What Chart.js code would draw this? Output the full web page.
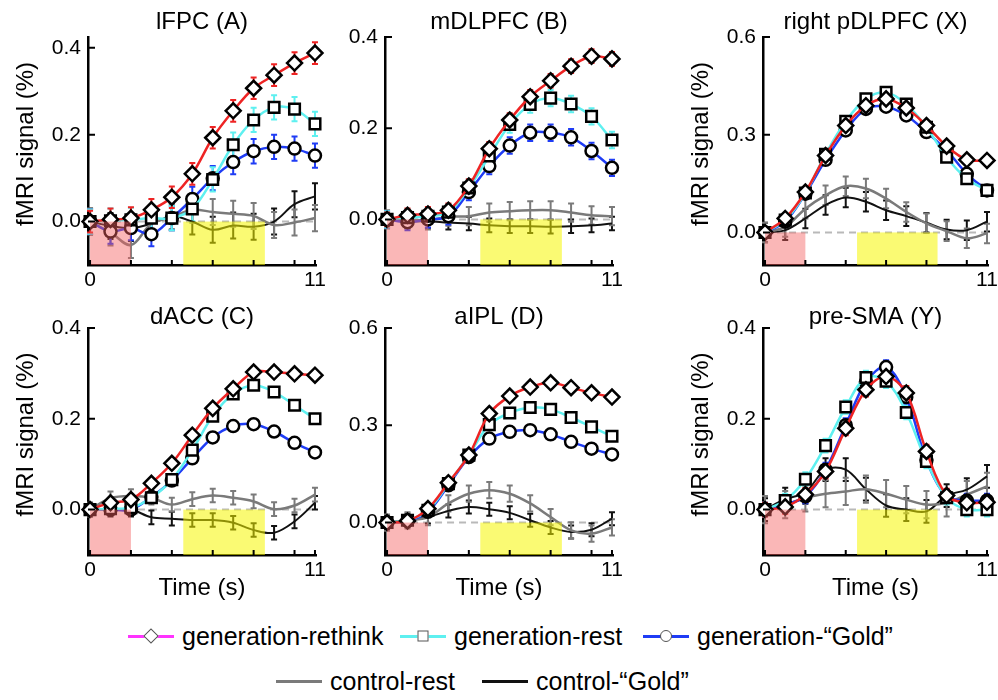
<!DOCTYPE html>
<html>
<head>
<meta charset="utf-8">
<script src="https://cdn.jsdelivr.net/npm/chart.js@4.4.1/dist/chart.umd.min.js"></script>
<style>
  body { margin: 0; background: #fff; width: 998px; height: 700px; position: relative; overflow: hidden;
         font-family: "Liberation Sans", Arial, Helvetica, sans-serif; }
  canvas { position: absolute; }
  .key { position: absolute; display: flex; align-items: center; height: 24px; font-size: 25px; color: #000; white-space: nowrap; }
  .sw { position: relative; width: 46px; height: 3px; margin-right: 8px; }
  .mk { position: absolute; left: 50%; top: 50%; width: 9px; height: 9px; background: #fff;
        border: 1.5px solid #555; transform: translate(-50%, -50%); }
  .mk.dia { transform: translate(-50%, -50%) rotate(45deg); }
  .mk.circ { border-radius: 50%; width: 10px; height: 10px; }
</style>
</head>
<body>
<canvas id="lfpc"></canvas>
<canvas id="mdlpfc"></canvas>
<canvas id="rpdlpfc"></canvas>
<canvas id="dacc"></canvas>
<canvas id="aipl"></canvas>
<canvas id="presma"></canvas>

<div class="key" style="left:128px; top:624px;"><span class="sw" style="background:#ff33ff"><i class="mk dia"></i></span>generation-rethink</div>
<div class="key" style="left:400px; top:624px;"><span class="sw" style="background:#5ef0f0"><i class="mk"></i></span>generation-rest</div>
<div class="key" style="left:643px; top:624px;"><span class="sw" style="background:#1f3cf5"><i class="mk circ"></i></span>generation-“Gold”</div>
<div class="key" style="left:276px; top:669px;"><span class="sw" style="background:#7a7a7a"></span>control-rest</div>
<div class="key" style="left:482px; top:669px;"><span class="sw" style="background:#111"></span>control-“Gold”</div>

<script>
// time axis (s) and tick marks
const timeSec = [0, 1, 2, 3, 4, 5, 6, 7, 8, 9, 10, 11];
const xTicks = [0, 2, 4, 6, 8, 10, 11];
const xTickLabels = [0, 11];
const yTicksSmall = [0, 0.2, 0.4];
const yTicksLarge = [0, 0.3, 0.6];
// shaded task windows (s)
const cueWindow = [0, 2];
const goldWindow = [4.56, 8.55];

// lFPC (A)
const lfpcRethink = [0, 0.005, 0.008, 0.027, 0.056, 0.11, 0.193, 0.255, 0.307, 0.337, 0.365, 0.388];
const lfpcRest = [0, 0.002, 0.004, 0.008, 0.008, 0.029, 0.097, 0.177, 0.234, 0.263, 0.259, 0.225];
const lfpcGold = [0, -0.023, -0.015, -0.029, 0.008, 0.052, 0.1, 0.137, 0.162, 0.172, 0.168, 0.152];
const lfpcCtrlRest = [0, -0.025, -0.054, -0.005, 0.01, 0.027, 0.022, 0.018, 0.013, -0.008, -0.002, 0.008];
const lfpcCtrlGold = [0, -0.01, -0.015, -0.005, 0.012, 0.0, -0.019, -0.009, -0.012, 0.0, 0.04, 0.058];
const lfpcSem = [0.025, 0.028, 0.028, 0.03, 0.03];

// mDLPFC (B)
const mdlRethink = [0, 0.009, 0.012, 0.02, 0.073, 0.155, 0.218, 0.269, 0.304, 0.336, 0.358, 0.352];
const mdlRest = [0, 0.004, 0.007, 0.016, 0.069, 0.139, 0.208, 0.252, 0.266, 0.253, 0.226, 0.174];
const mdlGold = [0, -0.006, 0, 0.007, 0.06, 0.117, 0.162, 0.19, 0.19, 0.18, 0.15, 0.113];
const mdlCtrlRest = [0, 0, -0.002, 0.006, 0.007, 0.015, 0.018, 0.02, 0.02, 0.015, 0.009, 0.007];
const mdlCtrlGold = [0, -0.004, -0.004, -0.007, -0.009, -0.013, -0.015, -0.015, -0.016, -0.015, -0.013, -0.009];
const mdlSem = [0.015, 0.018, 0.018, 0.02, 0.015];

// right pDLPFC (X)
const rdlRethink = [0, 0.043, 0.124, 0.236, 0.328, 0.389, 0.41, 0.382, 0.328, 0.265, 0.223, 0.221];
const rdlRest = [0, 0.038, 0.121, 0.24, 0.341, 0.41, 0.43, 0.394, 0.323, 0.231, 0.165, 0.129];
const rdlGold = [0, 0.033, 0.119, 0.223, 0.313, 0.379, 0.386, 0.359, 0.308, 0.252, 0.18, 0.129];
const rdlCtrlRest = [0, 0.017, 0.073, 0.114, 0.142, 0.135, 0.104, 0.063, 0.028, 0.004, -0.018, -0.003];
const rdlCtrlGold = [0, 0.007, 0.043, 0.084, 0.107, 0.094, 0.068, 0.05, 0.03, 0.009, 0.007, 0.033];
const rdlSem = [0.012, 0.012, 0.012, 0.03, 0.03];

// dACC (C)
const daccRethink = [0, 0.015, 0.022, 0.058, 0.102, 0.164, 0.223, 0.266, 0.303, 0.303, 0.299, 0.296];
const daccRest = [0, 0.002, 0.004, 0.026, 0.066, 0.131, 0.206, 0.255, 0.274, 0.259, 0.23, 0.2];
const daccGold = [0, 0, 0, 0.028, 0.064, 0.113, 0.159, 0.184, 0.188, 0.172, 0.147, 0.126];
const daccCtrlRest = [0, 0.025, 0.03, 0.026, 0.011, 0.023, 0.031, 0.026, 0.018, 0.001, 0.009, 0.033];
const daccCtrlGold = [0, 0, 0, -0.017, -0.02, -0.023, -0.023, -0.029, -0.045, -0.051, -0.026, 0.015];
const daccSem = [0.01, 0.01, 0.01, 0.015, 0.015];

// aIPL (D)
const aiplRethink = [0, 0.005, 0.043, 0.123, 0.208, 0.336, 0.39, 0.418, 0.431, 0.416, 0.4, 0.387];
const aiplRest = [0, 0.007, 0.038, 0.12, 0.208, 0.302, 0.338, 0.355, 0.349, 0.324, 0.295, 0.266];
const aiplGold = [0, 0.005, 0.033, 0.115, 0.202, 0.259, 0.28, 0.285, 0.272, 0.249, 0.228, 0.21];
const aiplCtrlRest = [0, 0.007, 0.017, 0.059, 0.089, 0.1, 0.089, 0.059, 0.017, -0.024, -0.034, -0.015];
const aiplCtrlGold = [0, 0.007, 0.017, 0.036, 0.048, 0.041, 0.03, 0.007, -0.015, -0.029, -0.022, 0.012];
const aiplSem = [0.01, 0.01, 0.01, 0.025, 0.02];

// pre-SMA (Y)
const psmaRethink = [0, 0.006, 0.033, 0.084, 0.179, 0.264, 0.293, 0.257, 0.128, 0.031, 0.015, 0.016];
const psmaRest = [0, 0.02, 0.067, 0.141, 0.226, 0.291, 0.283, 0.214, 0.106, 0.026, 0, 0];
const psmaGold = [0, 0.011, 0.029, 0.088, 0.186, 0.281, 0.314, 0.248, 0.109, 0.029, 0.02, 0.02];
const psmaCtrlRest = [0, 0.011, 0.026, 0.035, 0.04, 0.045, 0.035, 0.022, 0.011, 0.015, 0.033, 0.051];
const psmaCtrlGold = [0, 0.023, 0.038, 0.088, 0.088, 0.045, 0.009, 0, -0.004, 0.031, 0.044, 0.073];
const psmaSem = [0.015, 0.015, 0.015, 0.03, 0.025];

Chart.defaults.font.family = '"Liberation Sans", Arial, Helvetica, sans-serif';
Chart.defaults.color = '#000';

const seriesStyle = [
    { label: 'generation-rethink', color: '#ee2424', point: 'rectRot', radius: 7.5, width: 2.5 },
    { label: 'generation-rest', color: '#5ef0f0', point: 'rect', radius: 7.5, width: 2.5 },
    { label: 'generation-“Gold”', color: '#1f3cf5', point: 'circle', radius: 6, width: 2.5 },
    { label: 'control-rest', color: '#7a7a7a', point: false, width: 2.5 },
    { label: 'control-“Gold”', color: '#111111', point: false, width: 2 }
];

// canvas frames: column gives left edge / y-axis width / right padding, row gives top / heights
const columns = [
    { left: 0, width: 330, yW: 88, padR: 14 },
    { left: 330, width: 330, yW: 55, padR: 47 },
    { left: 660, width: 338, yW: 103, padR: 7 }
];
const rows = [
    { top: 0, height: 290, titlePad: { top: 11.8, bottom: 4.8 }, xH: 25 },
    { top: 290, height: 320, titlePad: { top: 16.8, bottom: 0.8 }, xH: 55 }
];

const panels = [
    { id: 'lfpc', title: 'lFPC (A)', col: 0, row: 0, yMax: 0.425, yTicks: yTicksSmall, yTitle: true,
      series: [lfpcRethink, lfpcRest, lfpcGold, lfpcCtrlRest, lfpcCtrlGold], sem: lfpcSem },
    { id: 'mdlpfc', title: 'mDLPFC (B)', col: 1, row: 0, yMax: 0.4, yTicks: yTicksSmall, yTitle: false,
      series: [mdlRethink, mdlRest, mdlGold, mdlCtrlRest, mdlCtrlGold], sem: mdlSem },
    { id: 'rpdlpfc', title: 'right pDLPFC (X)', col: 2, row: 0, yMax: 0.6, yTicks: yTicksLarge, yTitle: true,
      series: [rdlRethink, rdlRest, rdlGold, rdlCtrlRest, rdlCtrlGold], sem: rdlSem },
    { id: 'dacc', title: 'dACC (C)', col: 0, row: 1, yMax: 0.4, yTicks: yTicksSmall, yTitle: true,
      series: [daccRethink, daccRest, daccGold, daccCtrlRest, daccCtrlGold], sem: daccSem },
    { id: 'aipl', title: 'aIPL (D)', col: 1, row: 1, yMax: 0.6, yTicks: yTicksLarge, yTitle: false,
      series: [aiplRethink, aiplRest, aiplGold, aiplCtrlRest, aiplCtrlGold], sem: aiplSem },
    { id: 'presma', title: 'pre-SMA (Y)', col: 2, row: 1, yMax: 0.4, yTicks: yTicksSmall, yTitle: true,
      series: [psmaRethink, psmaRest, psmaGold, psmaCtrlRest, psmaCtrlGold], sem: psmaSem }
];

// error bars, zero line, shaded windows, inward ticks and the y title
const decor = {
    id: 'decor',
    beforeDatasetsDraw(chart) {
        const { ctx, scales: { x, y } } = chart;
        ctx.save();
        ctx.strokeStyle = '#b9b9b9';
        ctx.lineWidth = 2;
        ctx.setLineDash([7, 5]);
        ctx.beginPath();
        ctx.moveTo(x.getPixelForValue(0), y.getPixelForValue(0));
        ctx.lineTo(x.getPixelForValue(11), y.getPixelForValue(0));
        ctx.stroke();
        ctx.setLineDash([]);

        // draw from the bottom series up so the generation bars sit on top
        for (let i = chart.data.datasets.length - 1; i >= 0; i--) {
            const ds = chart.data.datasets[i];
            ctx.strokeStyle = ds.borderColor;
            ctx.lineWidth = 2;
            ds.data.forEach(pt => {
                const px = x.getPixelForValue(pt.x);
                const hi = y.getPixelForValue(pt.y + ds.sem);
                const lo = y.getPixelForValue(pt.y - ds.sem);
                ctx.beginPath();
                ctx.moveTo(px, hi); ctx.lineTo(px, lo);
                ctx.moveTo(px - 3, hi); ctx.lineTo(px + 3, hi);
                ctx.moveTo(px - 3, lo); ctx.lineTo(px + 3, lo);
                ctx.stroke();
            });
        }
        ctx.restore();
    },
    afterDatasetsDraw(chart) {
        const { ctx, chartArea, scales: { x, y } } = chart;
        const y0 = y.getPixelForValue(0);
        ctx.save();
        ctx.fillStyle = 'rgba(245, 95, 95, 0.45)';
        ctx.fillRect(x.getPixelForValue(cueWindow[0]), y0,
            x.getPixelForValue(cueWindow[1]) - x.getPixelForValue(cueWindow[0]), chartArea.bottom - y0);
        ctx.fillStyle = 'rgba(245, 245, 0, 0.55)';
        ctx.fillRect(x.getPixelForValue(goldWindow[0]), y0,
            x.getPixelForValue(goldWindow[1]) - x.getPixelForValue(goldWindow[0]), chartArea.bottom - y0);

        ctx.strokeStyle = '#000';
        ctx.lineWidth = 2;
        ctx.beginPath();
        x.ticks.forEach(t => {
            const px = x.getPixelForValue(t.value);
            ctx.moveTo(px, chartArea.bottom);
            ctx.lineTo(px, chartArea.bottom - 5);
        });
        y.ticks.forEach(t => {
            const py = y.getPixelForValue(t.value);
            ctx.moveTo(chartArea.left, py);
            ctx.lineTo(chartArea.left + 7, py);
        });
        ctx.stroke();
        ctx.restore();
    },
    afterDraw(chart, args, opts) {
        if (!opts.yTitle) return;
        const { ctx, chartArea } = chart;
        ctx.save();
        ctx.translate(chartArea.left - 62, (chartArea.top + chartArea.bottom) / 2 - 7);
        ctx.rotate(-Math.PI / 2);
        ctx.font = '24px "Liberation Sans", Arial, sans-serif';
        ctx.fillStyle = '#000';
        ctx.textAlign = 'center';
        ctx.textBaseline = 'middle';
        ctx.fillText('fMRI signal (%)', 0, 0);
        ctx.restore();
    }
};

function renderPanel(p) {
    const canvas = document.getElementById(p.id);
    const col = columns[p.col];
    const row = rows[p.row];
    canvas.width = col.width;
    canvas.height = row.height;
    canvas.style.left = col.left + 'px';
    canvas.style.top = row.top + 'px';
    canvas.style.width = col.width + 'px';
    canvas.style.height = row.height + 'px';

    const datasets = p.series.map((vals, i) => {
        const s = seriesStyle[i];
        return {
            label: s.label,
            data: timeSec.map((t, k) => ({ x: t, y: vals[k] })),
            sem: p.sem[i],
            borderColor: s.color,
            backgroundColor: '#fff',
            borderWidth: s.width,
            tension: 0.35,
            clip: false,
            pointStyle: s.point || 'circle',
            pointRadius: s.point ? s.radius : 0,
            pointBorderColor: '#000',
            pointBackgroundColor: '#fff',
            pointBorderWidth: 2.5
        };
    });

    new Chart(canvas, {
        type: 'line',
        data: { datasets },
        options: {
            responsive: false,
            animation: false,
            events: [],
            layout: { padding: { left: 0, right: col.padR, top: 0, bottom: 0 } },
            plugins: {
                legend: { display: false },
                tooltip: { enabled: false },
                title: {
                    display: true,
                    text: p.title,
                    fullSize: false,
                    color: '#000',
                    font: { size: 24, weight: 'normal', lineHeight: 0.85 },
                    padding: row.titlePad
                },
                decor: { yTitle: p.yTitle }
            },
            scales: {
                x: {
                    type: 'linear',
                    min: -0.1,
                    max: 11.05,
                    afterBuildTicks: s => { s.ticks = xTicks.map(v => ({ value: v })); },
                    afterFit: s => { s.height = row.xH; s.paddingLeft = 0; s.paddingRight = 0; },
                    ticks: {
                        autoSkip: false,
                        maxRotation: 0,
                        padding: 3,
                        color: '#000',
                        font: { size: 21 },
                        callback: v => xTickLabels.includes(v) ? String(v) : ''
                    },
                    grid: { display: false, drawTicks: false },
                    border: { display: true, color: '#000', width: 2.5 },
                    title: {
                        display: p.row === 1,
                        text: 'Time (s)',
                        color: '#000',
                        font: { size: 24 },
                        padding: { top: 0, bottom: 7.6 }
                    }
                },
                y: {
                    type: 'linear',
                    min: -0.1,
                    max: p.yMax,
                    afterBuildTicks: s => { s.ticks = p.yTicks.map(v => ({ value: v })); },
                    afterFit: s => { s.width = col.yW; s.paddingTop = 0; s.paddingBottom = 0; },
                    ticks: {
                        padding: 7,
                        color: '#000',
                        font: { size: 21 },
                        callback: v => v.toFixed(1)
                    },
                    grid: { display: false, drawTicks: false },
                    border: { display: true, color: '#000', width: 2.5 }
                }
            }
        },
        plugins: [decor]
    });
}

panels.forEach(renderPanel);
</script>
</body>
</html>
